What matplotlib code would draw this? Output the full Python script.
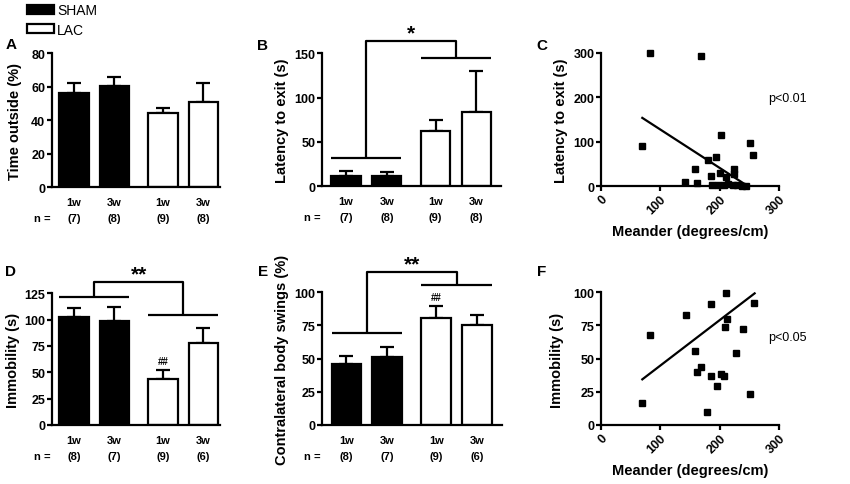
import numpy as np
import matplotlib.pyplot as plt

plt.rcParams['font.family'] = ['Liberation Sans', 'DejaVu Sans']

W, H = 850, 485

groups = ['1w', '3w', '1w', '3w']
pos = [0, 1, 2.2, 3.2]
colors = ['black', 'black', 'white', 'white']

# bar panels: mean, upper SEM, n
a_mean = [56.3, 60.3, 44.2, 50.9]
a_err = [6.0, 5.5, 3.3, 11.4]
a_n = ['(7)', '(8)', '(9)', '(8)']

b_mean = [11.3, 11.3, 62.7, 83.8]
b_err = [5.6, 4.5, 12.0, 46.5]
b_n = ['(7)', '(8)', '(9)', '(8)']
b_levels = [31.9, 144.6, 164.2]

d_mean = [102.3, 99.0, 43.4, 78.2]
d_err = [8.5, 13.3, 9.1, 13.6]
d_n = ['(8)', '(7)', '(9)', '(6)']
d_levels = [121.8, 104.8, 136.0]

e_mean = [45.7, 51.5, 80.6, 75.6]
e_err = [6.1, 7.1, 8.8, 7.1]
e_n = ['(8)', '(7)', '(9)', '(6)']
e_levels = [69.3, 105.3, 115.0]

# scatter panels
c_x = [83, 169, 70, 202, 251, 257, 180, 194, 158, 186, 142, 162, 201, 211,
       225, 224, 187, 198, 207, 215, 222, 230, 238, 244]
c_y = [300, 294, 91, 115, 97, 71, 59, 65, 39, 24, 9, 7, 31, 21,
       39, 28, 2, 4, 2, 5, 3, 2, 1, 1]
c_fit_x = [70, 248]
c_fit_y = [154, 0]

f_x = [70, 83, 143, 158, 162, 169, 186, 179, 186, 195, 202, 208, 209, 211,
       213, 228, 239, 251, 258]
f_y = [16.6, 67.6, 82.6, 55.5, 39.7, 43.7, 91.2, 9.5, 36.7, 29.6, 38.7, 36.7,
       73.9, 99.7, 79.6, 54.5, 72.6, 23.6, 92.0]
f_fit_x = [70, 259]
f_fit_y = [34.4, 99.2]

LW = 1.6


def add_ax(fig, l, t, r, b):
    return fig.add_axes([l / W, 1 - b / H, (r - l) / W, (b - t) / H])


def style(ax):
    for s in ['top', 'right']:
        ax.spines[s].set_visible(False)
    for s in ['left', 'bottom']:
        ax.spines[s].set_linewidth(LW)
    ax.tick_params(axis='y', width=LW, length=3.6, labelsize=9, pad=1)
    for lab in ax.get_yticklabels():
        lab.set_fontweight('bold')


def bar_panel(ax, mean, err, ns, ylim, yticks, xlim):
    bars = ax.bar(pos, mean, width=0.72, color=colors, edgecolor='black',
                  linewidth=LW, zorder=2)
    ax.errorbar(pos, mean, yerr=[np.zeros(4), err], fmt='none', ecolor='black',
                elinewidth=LW, capsize=5, capthick=LW, zorder=1)
    ax.set_ylim(*ylim)
    ax.set_xlim(*xlim)
    ax.set_yticks(yticks)
    ax.set_xticks(pos)
    ax.set_xticklabels(groups, fontsize=8, fontweight='bold')
    ax.tick_params(axis='x', length=0, pad=7)
    style(ax)
    tr = ax.get_xaxis_transform()
    for p, n in zip(pos, ns):
        ax.annotate(n, (p, 0), xycoords=tr, xytext=(0, -31), textcoords='offset pixels',
                    ha='center', va='center', fontsize=8, fontweight='bold')
    ax.annotate('n =', (xlim[0], 0), xycoords=tr, xytext=(-9, -31),
                textcoords='offset pixels', ha='center', va='center',
                fontsize=8, fontweight='bold')
    return bars


def bracket(ax, levels, mark):
    half = 0.36
    lx = [pos[0] - half, pos[1] + half]
    rx = [pos[2] - half, pos[3] + half]
    lc = sum(lx) / 2
    rc = sum(rx) / 2
    kw = dict(color='black', lw=LW, clip_on=False, solid_capstyle='butt')
    ax.plot(lx, [levels[0]] * 2, **kw)
    ax.plot(rx, [levels[1]] * 2, **kw)
    ax.plot([lc, lc, rc, rc], [levels[0], levels[2], levels[2], levels[1]], **kw)
    ax.annotate(mark, ((lc + rc) / 2, levels[2]), xytext=(0, -1),
                textcoords='offset points', ha='center', va='bottom',
                fontsize=15, fontweight='bold', annotation_clip=False)


def hashes(ax, i, mean, err):
    ax.annotate('##', (pos[i], mean[i] + err[i]), xytext=(0, 9),
                textcoords='offset pixels', ha='center', va='center',
                fontsize=7, fontweight='bold', annotation_clip=False)


def scatter_panel(ax, x, y, fx, fy, ylim, yticks, ptxt):
    ax.plot(x, y, 's', color='black', ms=5, clip_on=False, zorder=3)
    ax.plot(fx, fy, color='black', lw=LW)
    ax.set_xlim(0, 300)
    ax.set_ylim(*ylim)
    ax.set_xticks([0, 100, 200, 300])
    ax.set_yticks(yticks)
    style(ax)
    ax.tick_params(axis='x', width=LW, length=3.6, labelsize=9, pad=1)
    for lab in ax.get_xticklabels():
        lab.set_fontweight('bold')
        lab.set_rotation(45)
        lab.set_ha('right')
        lab.set_rotation_mode('anchor')
    ax.set_xlabel('Meander (degrees/cm)', fontsize=10.5, fontweight='bold', labelpad=6)
    ax.text(0.94, 0.66, ptxt, transform=ax.transAxes, fontsize=9, va='center')


fig = plt.figure(figsize=(W / 100, H / 100), dpi=100)

axA = add_ax(fig, 51.7, 54.3, 220, 188.3)
barsA = bar_panel(axA, a_mean, a_err, a_n, (0, 80), [0, 20, 40, 60, 80], (-0.55, 3.61))

axB = add_ax(fig, 321.7, 54.3, 501, 187.3)
bar_panel(axB, b_mean, b_err, b_n, (0, 150), [0, 50, 100, 150], (-0.6, 3.81))
bracket(axB, b_levels, '*')

axC = add_ax(fig, 600.7, 54, 779, 187.3)
scatter_panel(axC, c_x, c_y, c_fit_x, c_fit_y, (0, 300), [0, 100, 200, 300], 'p<0.01')

axD = add_ax(fig, 51.7, 294.3, 220, 426)
bar_panel(axD, d_mean, d_err, d_n, (0, 125), [0, 25, 50, 75, 100, 125], (-0.55, 3.61))
bracket(axD, d_levels, '**')
hashes(axD, 2, d_mean, d_err)

axE = add_ax(fig, 321.7, 293.3, 502, 426)
bar_panel(axE, e_mean, e_err, e_n, (0, 100), [0, 25, 50, 75, 100], (-0.6, 3.81))
bracket(axE, e_levels, '**')
hashes(axE, 2, e_mean, e_err)

axF = add_ax(fig, 600.7, 293.3, 779, 426)
scatter_panel(axF, f_x, f_y, f_fit_x, f_fit_y, (0, 100), [0, 25, 50, 75, 100], 'p<0.05')

# y labels and panel letters, placed in figure pixels
ylabels = [(15, 121, 'Time outside (%)'), (282, 121, 'Latency to exit (s)'),
           (561, 121, 'Latency to exit (s)'), (13, 360, 'Immobility (s)'),
           (282, 360, 'Contralateral body swings (%)'), (557, 360, 'Immobility (s)')]
for x, y, s in ylabels:
    fig.text(x / W, 1 - y / H, s, rotation=90, ha='center', va='center',
             fontsize=10.5, fontweight='bold')

letters = [(11, 45, 'A'), (263, 46, 'B'), (542, 46, 'C'),
           (11, 272, 'D'), (263, 272, 'E'), (542, 272, 'F')]
for x, y, s in letters:
    fig.text(x / W, 1 - y / H, s, ha='center', va='center',
             fontsize=11, fontweight='bold')

fig.legend(barsA[1:3], ['SHAM', 'LAC'], loc='upper left',
           bbox_to_anchor=(26.7 / W, 1 - 4 / H), frameon=False,
           fontsize=10, handlelength=2.0, handleheight=0.6,
           handletextpad=0.2, labelspacing=0.4, borderpad=0, borderaxespad=0)

fig.savefig('out.png', dpi=100)
